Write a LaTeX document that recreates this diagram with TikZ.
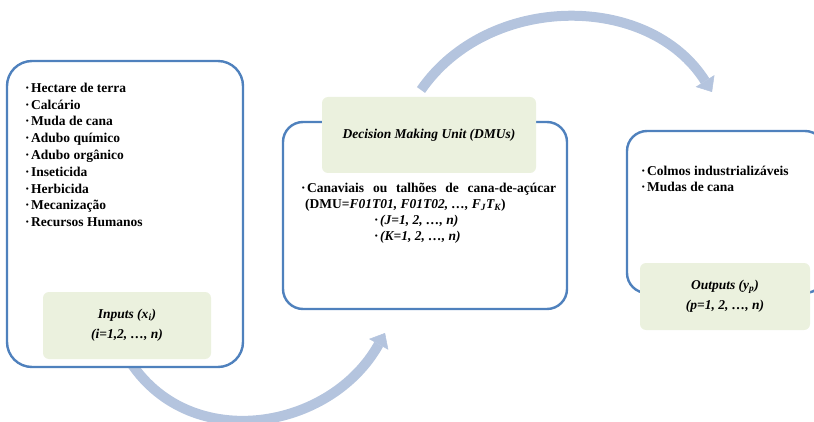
\documentclass[tikz,border=0pt]{standalone}
\usepackage{fontspec}
\setmainfont{Liberation Serif}
\usetikzlibrary{arrows.meta}
\definecolor{frameblue}{HTML}{4F81BD}
\definecolor{labelgreen}{HTML}{EBF1DE}
\definecolor{flowblue}{HTML}{B4C4DE}
\newcommand{\itemdot}{\textperiodcentered\hspace{1.5pt}}
\begin{document}
\begin{tikzpicture}[x=1pt,y=-1pt,
  panel/.style={draw=frameblue, line width=2.4pt, fill=white,
    rounded corners=#1, inner sep=0pt, outer sep=0pt},
  tag/.style={fill=labelgreen, rounded corners=6pt, inner sep=0pt,
    align=center, font=\fontsize{13.5}{20}\selectfont\bfseries\itshape},
  entry/.style={anchor=base west, inner sep=0pt,
    font=\fontsize{13.5}{16}\selectfont\bfseries},
  flow/.style={draw=flowblue, line width=10pt,
    -{Triangle[width=22pt,length=13pt,line width=0.5pt]}}]
\clip (0,0) rectangle (814,422);

% curved flow arrows, drawn behind the panels
\coordinate (f1s) at (131,363);
\coordinate (f1e) at (385,333);
\coordinate (f2s) at (421,90);
\coordinate (f2e) at (712,92);
\draw[flow] (f1s) .. controls (192,454) and (331,430) .. (f1e);
\draw[flow] (f2s) .. controls (488,-7) and (649,-8) .. (f2e);

% three panels
\node[panel=25pt, minimum width=236pt, minimum height=306pt] (inbox) at (125,214) {};
\node[panel=20pt, minimum width=284pt, minimum height=187pt] (dmubox) at (425,215.5) {};
\node[panel=20pt, minimum width=198pt, minimum height=162pt] (outbox) at (726,212) {};

% labelled captions
\node[tag, minimum width=214pt, minimum height=76pt] (dmutag) at (429,135)
  {Decision Making Unit (DMUs)};
\node[tag, minimum width=168pt, minimum height=67pt] (intag) at (127,325.5)
  {Inputs (x\textsubscript{i})\\(i=1,2, …, n)};
\node[tag, minimum width=170pt, minimum height=67pt] (outtag) at (725,296.5)
  {Outputs (y\textsubscript{p})\\(p=1, 2, …, n)};

% inputs list
\node[entry] (i1) at (25,92.3) {\itemdot Hectare de terra};
\node[entry] (i2) at (25,109.1) {\itemdot Calcário};
\node[entry] (i3) at (25,125.9) {\itemdot Muda de cana};
\node[entry] (i4) at (25,142.7) {\itemdot Adubo químico};
\node[entry] (i5) at (25,159.5) {\itemdot Adubo orgânico};
\node[entry] (i6) at (25,176.3) {\itemdot Inseticida};
\node[entry] (i7) at (25,193.1) {\itemdot Herbicida};
\node[entry] (i8) at (25,209.9) {\itemdot Mecanização};
\node[entry] (i9) at (25,226.7) {\itemdot Recursos Humanos};

% decision making units
\node[entry] (m1) at (301,192.5)
  {\makebox[255pt][s]{\itemdot Canaviais ou talhões de cana-de-açúcar}};
\node[entry] (m2) at (305,208.5)
  {(DMU=\textit{F01T01, F01T02, …, F\textsubscript{J}T\textsubscript{K}})};
\node[entry] (m3) at (374,224.5) {\itemdot\textit{(J=1, 2, …, n)}};
\node[entry] (m4) at (374,240.5) {\itemdot\textit{(K=1, 2, …, n)}};

% outputs list
\node[entry] (o1) at (641,176) {\itemdot Colmos industrializáveis};
\node[entry] (o2) at (641,192) {\itemdot Mudas de cana};
\end{tikzpicture}
\end{document}
